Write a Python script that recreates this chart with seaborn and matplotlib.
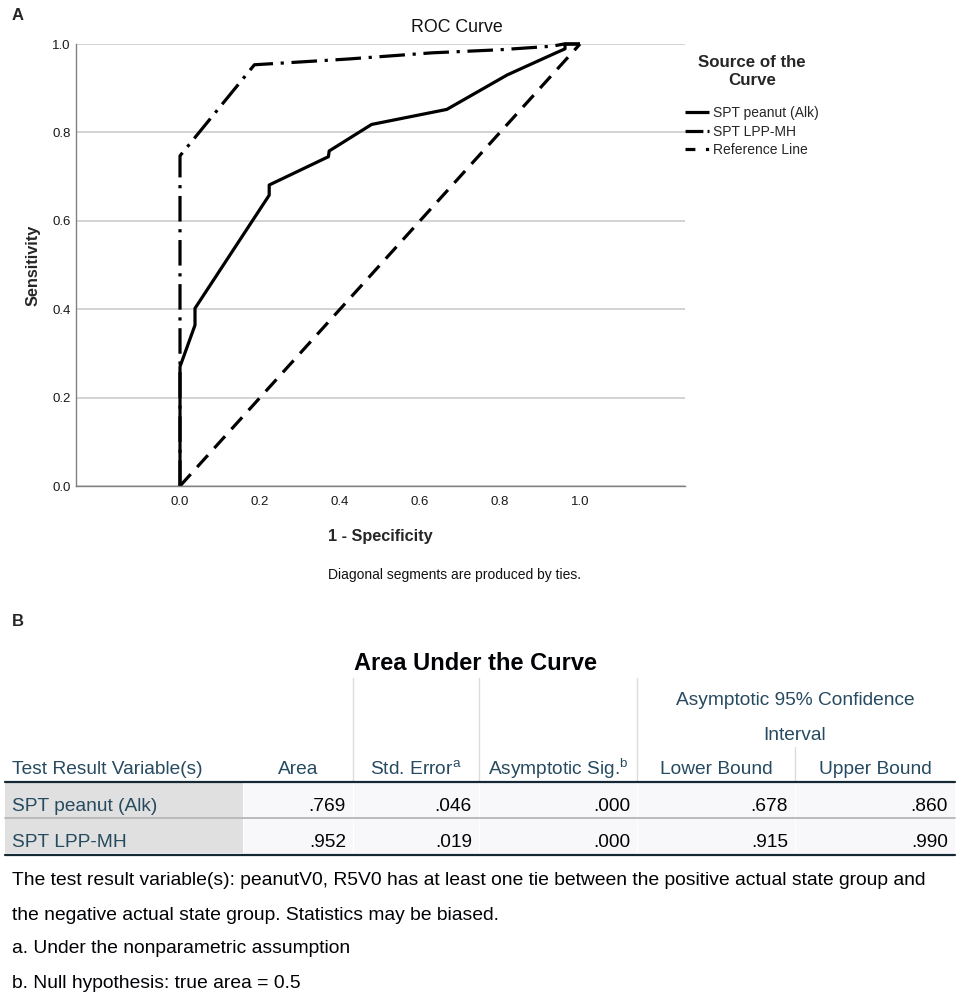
import numpy as np
import pandas as pd
import matplotlib
matplotlib.use("Agg")
import matplotlib.pyplot as plt
import seaborn as sns
from matplotlib.patches import Rectangle

# ---------------- data ----------------
series_names = ["SPT peanut (Alk)", "SPT LPP-MH", "Reference Line"]

fpr_peanut = [0.0, 0.0, 0.0375, 0.0375, 0.223, 0.223, 0.371, 0.373, 0.479, 0.667, 0.818, 0.935, 0.9625, 0.9625, 1.0]
tpr_peanut = [0.0, 0.270, 0.364, 0.402, 0.658, 0.681, 0.745, 0.758, 0.818, 0.852, 0.930, 0.978, 0.989, 1.0, 1.0]

fpr_lpp = [0.0, 0.0, 0.186, 0.42, 0.63, 0.80, 0.93, 0.96, 1.0]
tpr_lpp = [0.0, 0.747, 0.953, 0.966, 0.980, 0.987, 0.995, 1.0, 1.0]

fpr_ref = [0.0, 1.0]
tpr_ref = [0.0, 1.0]

x_ticks = [0.0, 0.2, 0.4, 0.6, 0.8, 1.0]
y_ticks = [0.0, 0.2, 0.4, 0.6, 0.8, 1.0]

table_rows = ["SPT peanut (Alk)", "SPT LPP-MH"]
auc_area = [0.769, 0.952]
auc_se = [0.046, 0.019]
auc_sig = [0.000, 0.000]
auc_lower = [0.678, 0.915]
auc_upper = [0.860, 0.990]
table_headers = ["Test Result Variable(s)", "Area", "Std. Error$^{\\mathrm{a}}$",
                 "Asymptotic Sig.$^{\\mathrm{b}}$", "Lower Bound", "Upper Bound"]
footnotes = [
    "The test result variable(s): peanutV0, R5V0 has at least one tie between the positive actual state group and",
    "the negative actual state group. Statistics may be biased.",
    "a. Under the nonparametric assumption",
    "b. Null hypothesis: true area = 0.5",
]

# ---------------- style ----------------
sns.set_style("white")
plt.rcParams["font.family"] = ["Liberation Sans", "DejaVu Sans"]
plt.rcParams["mathtext.fontset"] = "custom"
plt.rcParams["mathtext.rm"] = "Liberation Sans"
plt.rcParams["mathtext.it"] = "Liberation Sans:italic"
plt.rcParams["mathtext.bf"] = "Liberation Sans:bold"

W, H = 957, 996
fig = plt.figure(figsize=(W / 100, H / 100), dpi=100)


def fx(x):
    return x / W


def fy(y):
    return 1 - y / H


# ---------------- ROC panel ----------------
ax = fig.add_axes([fx(76), fy(486), 609 / W, 442 / H])

df = pd.concat([
    pd.DataFrame({"fpr": fpr_peanut, "tpr": tpr_peanut, "series": series_names[0]}),
    pd.DataFrame({"fpr": fpr_lpp, "tpr": tpr_lpp, "series": series_names[1]}),
    pd.DataFrame({"fpr": fpr_ref, "tpr": tpr_ref, "series": series_names[2]}),
], ignore_index=True)

dash_map = {series_names[0]: "", series_names[1]: (8, 2.4, 1, 2.4), series_names[2]: (5, 3)}
sns.lineplot(data=df, x="fpr", y="tpr", style="series", style_order=series_names,
             dashes=dash_map, sort=False, estimator=None,
             color="black", lw=2.3, ax=ax, legend=False)
for ln in ax.get_lines():
    ln.set_clip_on(False)
    ln.set_solid_capstyle("butt")
    ln.set_dash_capstyle("butt")

ax.set_xlim(-0.26, 1.2625)
ax.set_ylim(0, 1.0)
ax.set_xticks(x_ticks)
ax.set_yticks(y_ticks)
ax.set_xticklabels([f"{v:.1f}" for v in x_ticks])
ax.set_yticklabels([f"{v:.1f}" for v in y_ticks])
ax.tick_params(axis="both", length=0, labelsize=9.5, colors="#1a1a1a")
ax.tick_params(axis="x", pad=7)
ax.tick_params(axis="y", pad=4)
for t in ax.get_xticklabels() + ax.get_yticklabels():
    t.set_family(["Liberation Sans Narrow", "Liberation Sans"])
ax.yaxis.grid(True, color="#c8c8c8", lw=1.1)
ax.xaxis.grid(False)
ax.set_axisbelow(True)
for s in ["top", "right"]:
    ax.spines[s].set_visible(False)
for s in ["left", "bottom"]:
    ax.spines[s].set_color("#808080")
    ax.spines[s].set_linewidth(1.0)

ax.set_xlabel("1 - Specificity", fontsize=11.7, fontweight="bold", labelpad=15)
ax.set_ylabel("Sensitivity", fontsize=11.7, fontweight="bold", labelpad=8)

lines = ax.get_lines()[:3]
leg = ax.legend(lines, series_names, title="Source of the\nCurve", frameon=False,
                loc="upper left", bbox_to_anchor=(fx(685), fy(55)),
                bbox_transform=fig.transFigure, fontsize=10,
                title_fontproperties={"weight": "bold", "size": 12.2},
                handlelength=1.75, handletextpad=0.3, labelspacing=0.32,
                borderaxespad=0, borderpad=0)
leg._legend_box.align = "center"
leg._legend_box.sep = 13
leg.get_title().set_multialignment("center")
leg.get_title().set_linespacing(1.25)
leg_lines = leg.get_lines()
leg_lines[1].set_dashes((5.6, 1.3, 1.0, 3))
leg_lines[2].set_dashes((3.1, 3.3, 1.0, 3))

fig.text(fx(457), fy(28), "ROC Curve", ha="center", va="center", fontsize=12.8, color="#111111")
fig.text(fx(455), fy(575), "Diagonal segments are produced by ties.", ha="center", va="center",
         fontsize=10, color="#111111")
fig.text(fx(12), fy(16), "A", ha="left", va="center", fontsize=12, fontweight="bold")
fig.text(fx(12), fy(622), "B", ha="left", va="center", fontsize=12, fontweight="bold")

# ---------------- table panel ----------------
tax = fig.add_axes([0, 0, 1, 1], zorder=-1)
tax.set_xlim(0, W)
tax.set_ylim(H, 0)
tax.axis("off")
tax.patch.set_visible(False)

head_c = "#264a60"
num_c = "#010205"
col_x = [5, 243, 353, 479, 637, 795, 955]
row_tops = [783, 819]
row_h = 34
row_y = [806, 842]

tax.text(476, 663, "Area Under the Curve", ha="center", va="center", fontsize=17, fontweight="bold",
         color="#010205")
tax.text(795, 700, "Asymptotic 95% Confidence", ha="center", va="center", fontsize=13.8, color=head_c)
tax.text(795, 735, "Interval", ha="center", va="center", fontsize=13.8, color=head_c)

# vertical dividers in header
for xv in col_x[2:5]:
    tax.plot([xv, xv], [678, 781], color="#dcdcdc", lw=1.0)
tax.plot([col_x[5], col_x[5]], [747, 781], color="#dcdcdc", lw=1.0)

# cells
for r in range(2):
    top = row_tops[r]
    tax.add_patch(Rectangle((col_x[0], top), col_x[1] - col_x[0], row_h, facecolor="#e0e0e0",
                            edgecolor="none"))
    for c in range(1, 6):
        tax.add_patch(Rectangle((col_x[c] + 1, top), col_x[c + 1] - col_x[c] - 1, row_h,
                                facecolor="#f8f8fa", edgecolor="none"))

tax.plot([5, 955], [781.5, 781.5], color="#152935", lw=1.6)
tax.plot([5, 955], [818, 818], color="#aeaeae", lw=1.2)
tax.plot([5, 955], [855, 855], color="#152935", lw=1.6)

# header row
tax.text(12, 769, table_headers[0], ha="left", va="center", fontsize=13.8, color=head_c)
for c in range(1, 6):
    tax.text((col_x[c] + col_x[c + 1]) / 2, 769, table_headers[c], ha="center", va="center",
             fontsize=13.8, color=head_c)


def fmt(v):
    s = f"{v:.3f}"
    return s[1:] if s.startswith("0") else s


cols = [auc_area, auc_se, auc_sig, auc_lower, auc_upper]
for r in range(2):
    tax.text(12, row_y[r], table_rows[r], ha="left", va="center", fontsize=13.8, color=head_c)
    for c in range(5):
        tax.text(col_x[c + 2] - 7, row_y[r], fmt(cols[c][r]), ha="right", va="center",
                 fontsize=13.8, color=num_c)

for t, yy in zip(footnotes, [880, 915, 948, 983]):
    tax.text(12, yy, t, ha="left", va="center", fontsize=13.9, color=num_c)

fig.savefig("out.png", dpi=100)
